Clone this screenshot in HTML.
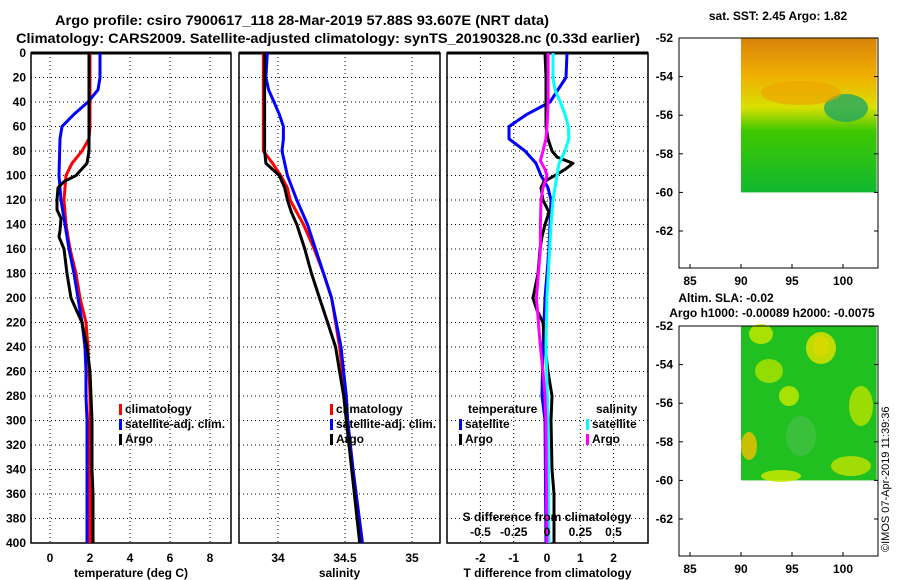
<!DOCTYPE html>
<html><head><meta charset="utf-8"><style>
body{margin:0;background:#fff;width:900px;height:580px;overflow:hidden}
svg{display:block;font-family:"Liberation Sans",sans-serif;font-weight:bold}
</style></head><body>
<svg id="c" width="900" height="580" viewBox="0 0 900 580">
<defs>
<linearGradient id="g1" x1="0" y1="0" x2="0" y2="1">
<stop offset="0" stop-color="#d9820a"/><stop offset="0.25" stop-color="#f0b000"/><stop offset="0.45" stop-color="#d8e000"/><stop offset="0.6" stop-color="#40c800"/><stop offset="1" stop-color="#10b830"/></linearGradient>
</defs>
<text x="55" y="25" font-size="14" textLength="494" lengthAdjust="spacingAndGlyphs">Argo profile: csiro 7900617_118 28-Mar-2019 57.88S 93.607E (NRT data)</text>
<text x="16" y="43" font-size="14" textLength="624" lengthAdjust="spacingAndGlyphs">Climatology: CARS2009. Satellite-adjusted climatology: synTS_20190328.nc (0.33d earlier)</text>
<g id="p1"></g>
<g id="p2"></g>
<g id="p3"></g>
<g id="m1"></g>
<g id="m2"></g>
<text transform="translate(889,552) rotate(-90)" font-size="11" font-weight="normal">©IMOS 07-Apr-2019 11:39:36</text>
</svg>
<script>
const depthTicks=[0,20,40,60,80,100,120,140,160,180,200,220,240,260,280,300,320,340,360,380,400];
const tempTicks=[0,2,4,6,8];
const salTicks=[34,34.5,35];
const tdTicks=[-2,-1,0,1,2];
const sdTicks=[-0.5,-0.25,0,0.25,0.5];
const tempClimD=[0,60,70,80,90,100,110,120,140,160,180,200,220,240,260,280,400];
const tempClim=[2.0,2.0,1.95,1.6,1.1,0.8,0.75,0.7,0.8,1.0,1.3,1.5,1.8,1.9,1.95,2.0,2.0];
const tempSatD=[0,20,30,40,50,60,70,100,120,140,160,180,200,220,240,260,280,300,400];
const tempSat=[2.5,2.5,2.4,1.9,1.2,0.6,0.5,0.45,0.55,0.75,0.95,1.2,1.4,1.6,1.75,1.8,1.8,1.85,1.85];
const tempArgoD=[0,80,90,100,105,110,120,128,135,145,150,160,180,200,220,240,260,280,300,340,360,400];
const tempArgo=[1.95,1.95,1.85,1.3,0.7,0.4,0.35,0.35,0.55,0.5,0.45,0.7,0.85,1.05,1.6,1.85,2.0,2.05,2.1,2.1,2.15,2.15];
const salClimD=[0,80,90,100,110,120,140,160,180,200,240,280,300,340,400];
const salClim=[33.89,33.89,33.96,34.02,34.07,34.09,34.19,34.27,34.34,34.40,34.46,34.50,34.52,34.56,34.63];
const salSatD=[0,20,30,40,50,60,70,80,100,120,140,160,180,200,240,280,300,340,400];
const salSat=[33.92,33.91,33.93,33.97,34.01,34.04,34.04,34.03,34.07,34.14,34.22,34.28,34.34,34.40,34.47,34.51,34.52,34.56,34.63];
const salArgoD=[0,80,90,95,100,110,120,130,140,160,180,200,220,240,260,280,300,340,400];
const salArgo=[33.9,33.9,33.91,33.96,34.01,34.05,34.07,34.10,34.14,34.20,34.25,34.31,34.37,34.43,34.46,34.49,34.51,34.55,34.61];
const tdSatD=[0,20,40,50,60,70,80,90,100,110,120,140,160,200,240,280,300,400];
const tdSat=[0.6,0.57,0.09,-0.6,-1.14,-1.14,-0.66,-0.33,-0.18,0.03,0.12,0.09,0.06,-0.06,-0.12,-0.15,-0.06,-0.03];
const tdArgoD=[0,20,60,70,80,85,90,95,100,105,110,120,130,140,150,160,180,200,210,220,240,260,280,300,340,360,400];
const tdArgo=[-0.06,-0.03,-0.03,0.03,0.15,0.3,0.78,0.54,0.24,-0.09,-0.18,-0.12,0.06,-0.06,-0.15,-0.21,-0.27,-0.42,-0.3,-0.12,-0.06,0.03,0.15,0.12,0.15,0.21,0.21];
const sdSatD=[0,20,30,40,50,60,70,80,90,100,120,140,200,240,300,400];
const sdSat=[0.045,0.045,0.06,0.1,0.135,0.16,0.165,0.135,0.09,0.075,0.045,0.03,0.0,-0.008,0.008,0.015];
const sdArgoD=[0,40,60,70,80,88,95,100,110,120,140,160,200,240,260,280,300,400];
const sdArgo=[0.008,0.008,0.0,-0.008,-0.03,-0.05,-0.015,0.0,-0.03,-0.045,-0.05,-0.05,-0.08,-0.05,-0.03,-0.015,-0.008,0.0];

const NS='http://www.w3.org/2000/svg';
function mk(parent,tag,attrs,txt){const e=document.createElementNS(NS,tag);for(const k in attrs)e.setAttribute(k,attrs[k]);if(txt!==undefined)e.textContent=txt;parent.appendChild(e);return e;}
const yD=d=>53+d*1.225;
function panel(g,x0,x1,xf,ticks,tickFmt,showY,xlabel){
  for(const d of depthTicks){if(d>0&&d<400){const l=mk(g,'line',{x1:x0,x2:x1,y1:yD(d),y2:yD(d),stroke:'#000','stroke-width':1,'stroke-dasharray':'1,3'});}
    if(showY){const t=mk(g,'text',{x:x0-5,y:yD(d)+4,'text-anchor':'end','font-size':12},d);}}
  for(const v of ticks){const X=xf(v);const l=mk(g,'line',{x1:X,x2:X,y1:53,y2:yD(400),stroke:'#000','stroke-width':1,'stroke-dasharray':'1,3'});
    const t=mk(g,'text',{x:X,y:562,'text-anchor':'middle','font-size':12},tickFmt(v));}
  const r=mk(g,'rect',{x:x0,y:53,width:x1-x0,height:yD(400)-53,fill:'none',stroke:'#000','stroke-width':1.5});
  mk(g,'line',{x1:x0,x2:x1,y1:53,y2:53,stroke:'#000','stroke-width':3});
  const t=mk(g,'text',{x:(x0+x1)/2,y:577,'text-anchor':'middle','font-size':12},xlabel);
}
function series(g,ds,vs,xf,col,name){
  const pts=ds.map((d,i)=>xf(vs[i]).toFixed(1)+','+yD(d).toFixed(1)).join(' ');
  const p=mk(g,'polyline',{points:pts,fill:'none',stroke:col,'stroke-width':3,'stroke-linejoin':'round'});
  
  
}
function legend(g,x,y,items){
  items.forEach((it,i)=>{mk(g,'rect',{x:x,y:y+i*15-9,width:3,height:11,fill:it[1]});
    const t=mk(g,'text',{x:x+6,y:y+i*15,'font-size':12},it[0]);});
}
const p1=document.getElementById('p1');const xT=v=>50+20*v;
panel(p1,31,231,xT,tempTicks,v=>v,true,'temperature (deg C)');
series(p1,tempClimD,tempClim,xT,'#f00','temp-climatology-line');
series(p1,tempSatD,tempSat,xT,'#00f','temp-satellite-line');
series(p1,tempArgoD,tempArgo,xT,'#000','temp-argo-line');
legend(p1,119,413,[['climatology','#f00'],['satellite-adj. clim.','#00f'],['Argo','#000']]);
const p2=document.getElementById('p2');const xS=v=>278+134*(v-34);
panel(p2,239,440,xS,salTicks,v=>v,false,'salinity');
series(p2,salClimD,salClim,xS,'#f00','sal-climatology-line');
series(p2,salSatD,salSat,xS,'#00f','sal-satellite-line');
series(p2,salArgoD,salArgo,xS,'#000','sal-argo-line');
legend(p2,330,413,[['climatology','#f00'],['satellite-adj. clim.','#00f'],['Argo','#000']]);
const p3=document.getElementById('p3');const xTd=v=>547+33.3*v;const xSd=v=>547+133*v;
panel(p3,447,648,xTd,tdTicks,v=>v,false,'T difference from climatology');
series(p3,tdSatD,tdSat,xTd,'#00f','tdiff-satellite-line');
series(p3,tdArgoD,tdArgo,xTd,'#000','tdiff-argo-line');
series(p3,sdSatD,sdSat,xSd,'#0ff','sdiff-satellite-line');
series(p3,sdArgoD,sdArgo,xSd,'#f0f','sdiff-argo-line');
sdTicks.forEach(v=>{const t=mk(p3,'text',{x:xSd(v),y:536,'text-anchor':'middle','font-size':12},v);});
{const t=mk(p3,'text',{x:547,y:521,'text-anchor':'middle','font-size':12},'S difference from climatology');}
{const t=mk(p3,'text',{x:468,y:413,'font-size':12},'temperature');}
{const t=mk(p3,'text',{x:596,y:413,'font-size':12},'salinity');}
legend(p3,459,428,[['satellite','#00f'],['Argo','#000']]);
legend(p3,586,428,[['satellite','#0ff'],['Argo','#f0f']]);
const lonTicks=[85,90,95,100];const latTicks=[-52,-54,-56,-58,-60,-62];
function map(g,top,titles,kind){
  const xL=v=>690+(v-85)*10.2, yL=v=>top+(-52-v)*19.3;
  const x0=679,x1=878,y1=top+230;
  if(titles.length==1){const t=mk(g,'text',{x:778,y:top-18,'text-anchor':'middle','font-size':12},titles[0]);}
  else{const a=mk(g,'text',{x:726,y:top-24,'text-anchor':'middle','font-size':12},titles[0]);
    const b=mk(g,'text',{x:772,y:top-9,'text-anchor':'middle','font-size':12},titles[1]);}
  const gx=xL(90),gy=top,gw=xL(103.3)-gx,gh=yL(-60)-top;
  if(kind==1){mk(g,'rect',{x:gx,y:gy,width:gw,height:gh,fill:'url(#g1)'});
    mk(g,'ellipse',{cx:gx+105,cy:gy+70,rx:22,ry:14,fill:'#20a860',opacity:0.8});
    mk(g,'ellipse',{cx:gx+60,cy:gy+55,rx:40,ry:12,fill:'#f0a000',opacity:0.6});
  } else {mk(g,'rect',{x:gx,y:gy,width:gw,height:gh,fill:'#20c020'});
    [[20,8,12,10,'#c0e800'],[80,20,8,10,'#f0a000'],[80,22,15,16,'#d8e000'],[48,70,10,10,'#c0e800'],[8,120,8,14,'#e8c000'],[120,80,12,20,'#b0e000'],[110,140,20,10,'#b8e000'],[40,150,20,6,'#c8e800'],[60,110,15,20,'#40c040'],[28,45,14,12,'#a8e000']].forEach(b=>mk(g,'ellipse',{cx:gx+b[0],cy:gy+b[1],rx:b[2],ry:b[3],fill:b[4],opacity:0.85}));}
  mk(g,'rect',{x:x0,y:top,width:x1-x0,height:y1-top,fill:'none',stroke:'#000','stroke-width':1});
  lonTicks.forEach(v=>{mk(g,'line',{x1:xL(v),x2:xL(v),y1:y1,y2:y1-4,stroke:'#000'});const t=mk(g,'text',{x:xL(v),y:y1+17,'text-anchor':'middle','font-size':12},v);});
  latTicks.forEach(v=>{mk(g,'line',{x1:x0,x2:x0+4,y1:yL(v),y2:yL(v),stroke:'#000'});mk(g,'line',{x1:x1,x2:x1-4,y1:yL(v),y2:yL(v),stroke:'#000'});const t=mk(g,'text',{x:x0-6,y:yL(v)+4,'text-anchor':'end','font-size':12},v);});
}
map(document.getElementById('m1'),38,['sat. SST: 2.45 Argo: 1.82'],1);
map(document.getElementById('m2'),326,['Altim. SLA: -0.02','Argo h1000: -0.00089 h2000: -0.0075'],2);
</script>
</body></html>
